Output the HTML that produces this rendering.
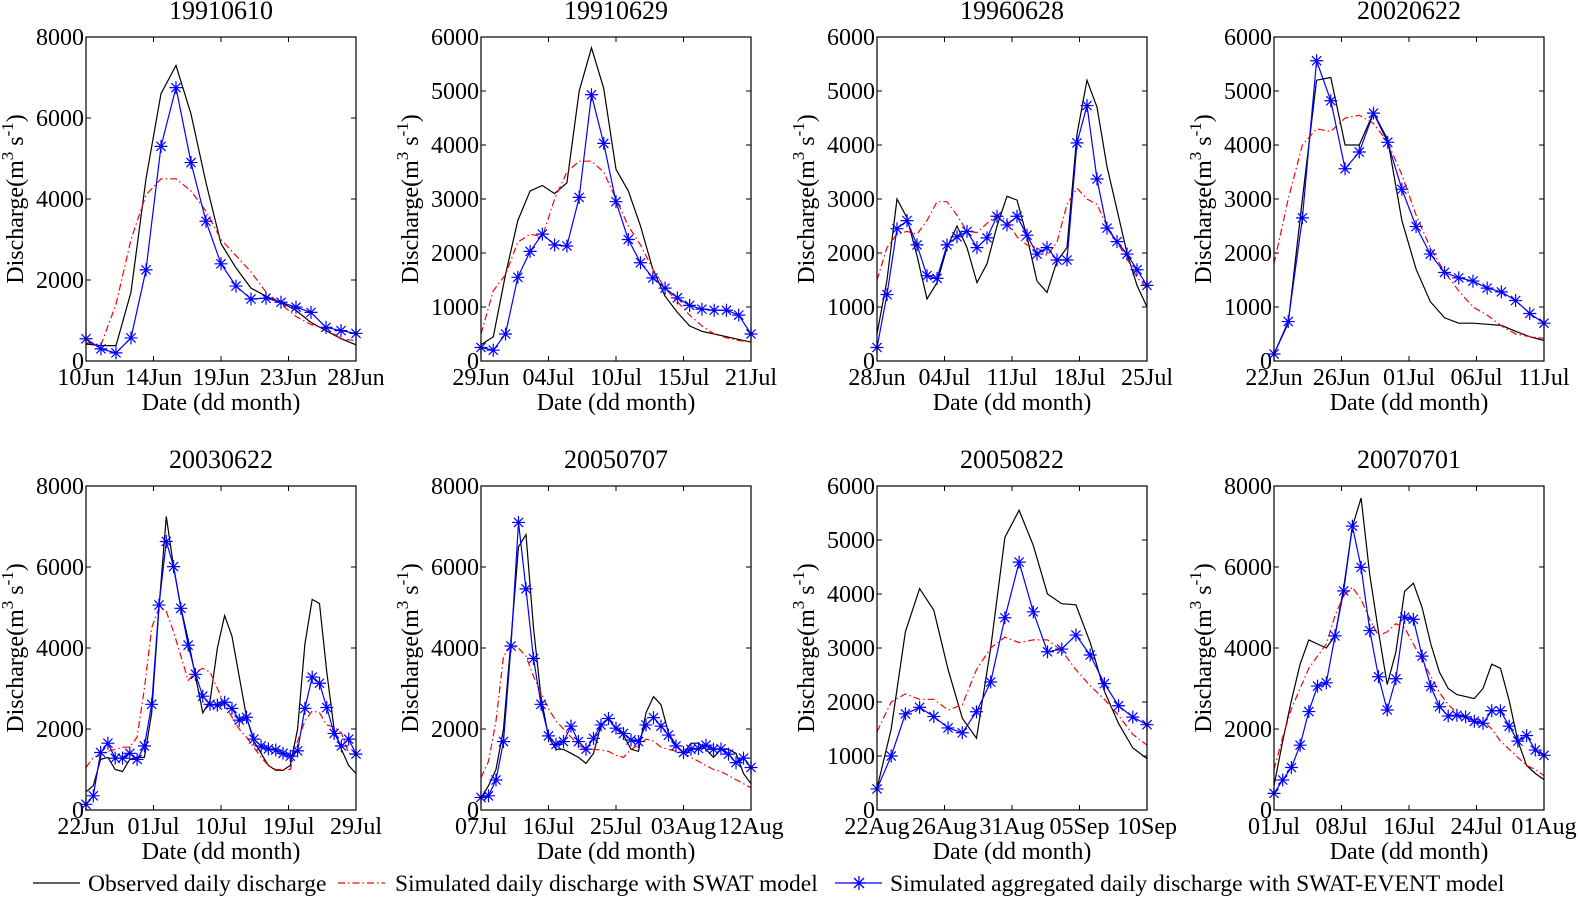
<!DOCTYPE html>
<html><head><meta charset="utf-8"><style>
html,body{margin:0;padding:0;background:#fff;}
svg{display:block;font-family:"Liberation Serif",serif;}
</style></head><body>
<svg id="c" width="1578" height="902" viewBox="0 0 1578 902" xmlns="http://www.w3.org/2000/svg">
<g>
<line x1="33" y1="883" x2="80" y2="883" stroke="#000" stroke-width="1.3"/>
<text x="88" y="891" font-size="23.5">Observed daily discharge</text>
<line x1="338" y1="883" x2="385" y2="883" stroke="#f00" stroke-width="1.3" stroke-dasharray="7,3,1.5,3"/>
<text x="395" y="891" font-size="23.5">Simulated daily discharge with SWAT model</text>
<line x1="835" y1="883" x2="882" y2="883" stroke="#00f" stroke-width="1.3"/>
<g stroke="#00f" stroke-width="1.3"><line x1="852" y1="883" x2="866" y2="883"/><line x1="859" y1="876" x2="859" y2="890"/><line x1="854" y1="878" x2="864" y2="888"/><line x1="854" y1="888" x2="864" y2="878"/></g>
<text x="890" y="891" font-size="23.5">Simulated aggregated daily discharge with SWAT-EVENT model</text>
</g>
</svg>
<script>
const titles=["19910610","19910629","19960628","20020622","20030622","20050707","20050822","20070701"];
const yMaxes=[8000,6000,6000,6000,8000,8000,6000,8000];
const xTicks=[["10Jun","14Jun","19Jun","23Jun","28Jun"],["29Jun","04Jul","10Jul","15Jul","21Jul"],["28Jun","04Jul","11Jul","18Jul","25Jul"],["22Jun","26Jun","01Jul","06Jul","11Jul"],["22Jun","01Jul","10Jul","19Jul","29Jul"],["07Jul","16Jul","25Jul","03Aug","12Aug"],["22Aug","26Aug","31Aug","05Sep","10Sep"],["01Jul","08Jul","16Jul","24Jul","01Aug"]];
const observed=[
[420,380,380,1700,4500,6600,7300,6100,4400,2900,2300,1800,1600,1450,1250,950,750,550,400],
[300,450,1600,2600,3150,3250,3100,3300,5000,5800,5050,3550,3150,2500,1700,1200,900,650,550,500,450,400,350],
[500,1500,3000,2650,1950,1150,1450,2100,2500,2100,1450,1800,2500,3050,2980,2300,1480,1270,1850,2100,4200,5200,4700,3600,2800,2000,1400,1000],
[130,700,3000,5200,5250,4000,4000,4600,4100,2600,1700,1100,800,700,700,680,660,550,450,380],
[450,600,1250,1300,1000,950,1250,1300,1300,2400,5000,7250,6000,5000,4200,3300,2400,2700,4000,4800,4300,3300,2300,1700,1400,1100,980,980,1100,2000,4100,5200,5100,3400,2000,1500,1100,900],
[300,600,1000,2000,4200,6500,6800,4500,2800,1800,1500,1500,1400,1300,1150,1400,2100,2250,2000,1850,1500,1450,2400,2800,2600,1900,1600,1400,1650,1650,1500,1300,1500,1500,1400,900,650],
[400,1500,3300,4100,3700,2600,1700,1330,3000,5050,5550,4900,4000,3820,3800,3100,2200,1600,1150,950],
[600,1700,2700,3600,4200,4100,4000,4300,5500,7000,7700,5800,4400,3100,3900,5400,5600,5000,4100,3400,3000,2850,2800,2750,3000,3600,3500,2700,1700,1100,900,750]];
const swat=[
[450,400,1400,3000,4100,4500,4500,4200,3700,3000,2600,2200,1700,1400,1100,900,800,550,500],
[500,1300,1600,2200,2350,2300,3000,3500,3700,3700,3500,3000,2500,2150,1700,1350,1100,850,650,500,430,380,350],
[1500,2100,2350,2400,2350,2600,2950,2950,2700,2400,2380,2550,2700,2600,2300,2150,2100,1950,2200,2900,3200,3000,2900,2500,2200,1900,1550,1350],
[1800,3000,4000,4300,4250,4500,4550,4400,4050,3450,2700,2100,1650,1300,1000,850,650,500,450,420],
[1050,1300,1350,1450,1500,1550,1550,1800,3000,4500,5000,4900,4400,3800,3200,3400,3500,3400,3000,2600,2300,2000,1800,1550,1300,1100,1000,1000,1000,1700,2200,2450,2400,2100,2050,1900,1400,1400],
[800,1200,2200,3800,4050,4000,3800,3300,2900,2500,2200,2000,1800,1600,1500,1500,1480,1450,1350,1300,1500,1600,1750,1700,1550,1500,1450,1400,1300,1200,1100,1000,950,850,750,650,550],
[1450,2000,2150,2050,2050,1850,1950,2600,3000,3200,3100,3150,3150,2950,2600,2300,2050,1750,1400,1200],
[1000,1800,2500,3000,3500,3800,4100,4800,5300,5500,5200,4700,4300,4400,4600,4500,4100,3700,3300,2900,2600,2400,2300,2250,2200,2000,1700,1500,1300,1100,1000,850]];
const swatEvent=[
[550,300,200,570,2250,5300,6750,4900,3450,2400,1850,1530,1550,1450,1330,1200,830,750,680],
[250,200,500,1550,2030,2350,2150,2130,3030,4930,4030,2950,2250,1820,1540,1350,1170,1030,960,940,940,850,500],
[250,1230,2450,2600,2150,1580,1530,2150,2300,2400,2100,2280,2680,2520,2680,2330,1980,2100,1870,1870,4040,4730,3370,2460,2210,1980,1690,1400],
[130,730,2650,5560,4820,3560,3870,4590,4050,3180,2490,1980,1640,1540,1480,1350,1280,1120,880,700],
[140,350,1420,1650,1280,1280,1400,1250,1580,2610,5060,6630,6010,4980,4070,3350,2810,2610,2590,2660,2510,2220,2290,1750,1580,1510,1480,1400,1330,1460,2510,3280,3130,2530,1890,1580,1750,1380],
[310,350,740,1690,4050,7100,5460,3740,2610,1830,1620,1690,2070,1690,1500,1770,2100,2260,2020,1890,1730,1690,2100,2280,2070,1850,1580,1420,1500,1520,1600,1500,1510,1380,1170,1280,1050],
[390,1000,1780,1900,1730,1520,1430,1820,2370,3560,4590,3670,2930,2980,3240,2870,2340,1930,1720,1580],
[410,740,1050,1600,2430,3060,3140,4300,5410,7010,5990,4430,3290,2470,3240,4760,4710,3800,3050,2550,2320,2340,2300,2190,2140,2450,2450,2070,1700,1840,1480,1350]];

const NS="http://www.w3.org/2000/svg";
const svg=document.getElementById('c');
function mk(tag,attrs,parent){const e=document.createElementNS(NS,tag);for(const k in attrs)e.setAttribute(k,attrs[k]);(parent||svg).appendChild(e);return e;}
const lefts=[86,481,877,1274], tops=[37,486], W=270, H=324;
for(let p=0;p<8;p++){
  const L=lefts[p%4], T=tops[Math.floor(p/4)], ymax=yMaxes[p];
  const n=observed[p].length;
  const xs=i=>L+i*W/(n-1);
  const ys=v=>T+H-v/ymax*H;
  const g=mk('g',{});
  
  
  const t=mk('text',{x:L+W/2,y:T-18,'text-anchor':'middle','font-size':26},g);t.textContent=titles[p];
  
  
  const step=ymax===8000?2000:1000;
  for(let v=0;v<=ymax;v+=step){
    const y=ys(v);
    mk('line',{x1:L,y1:y,x2:L+5,y2:y,stroke:'#000'},g);
    mk('line',{x1:L+W-5,y1:y,x2:L+W,y2:y,stroke:'#000'},g);
    const tl=mk('text',{x:L-2,y:y+8,'text-anchor':'end','font-size':24},g);tl.textContent=v;
    
    
  }
  xTicks[p].forEach((lab,k)=>{
    const x=L+k*W/4;
    mk('line',{x1:x,y1:T+H,x2:x,y2:T+H-5,stroke:'#000'},g);
    mk('line',{x1:x,y1:T,x2:x,y2:T+5,stroke:'#000'},g);
    const tl=mk('text',{x:x,y:T+H+24,'text-anchor':'middle','font-size':24},g);tl.textContent=lab;
    
    
  });
  const xl=mk('text',{x:L+W/2,y:T+H+49,'text-anchor':'middle','font-size':24},g);xl.textContent='Date (dd month)';
  
  
  const yl=mk('text',{x:0,y:0,'text-anchor':'middle','font-size':24,transform:`translate(${L-63},${T+H/2}) rotate(-90)`},g);
  yl.innerHTML='Discharge(m<tspan font-size="17" dy="-10">3</tspan><tspan dy="10"> s</tspan><tspan font-size="17" dy="-10">-1</tspan><tspan dy="10">)</tspan>';
  
  
  const path=arr=>arr.map((v,i)=>(i?'L':'M')+xs(i).toFixed(1)+','+ys(v).toFixed(1)).join('');
  const o=mk('path',{d:path(observed[p]),fill:'none',stroke:'#000','stroke-width':1.2},g);
  
  
  const s=mk('path',{d:path(swat[p]),fill:'none',stroke:'#f00','stroke-width':1.2,'stroke-dasharray':'7,3,1.5,3'},g);
  
  
  const e=mk('path',{d:path(swatEvent[p]),fill:'none',stroke:'#00f','stroke-width':1.2},g);
  
  
  swatEvent[p].forEach((v,i)=>{
    const cx=xs(i), cy=ys(v), r=6.5, d=4.6;
    const m=mk('path',{d:`M${cx-r},${cy}H${cx+r}M${cx},${cy-r}V${cy+r}M${cx-d},${cy-d}L${cx+d},${cy+d}M${cx-d},${cy+d}L${cx+d},${cy-d}`,stroke:'#00f','stroke-width':1.2,fill:'none'},g);
    
    
  });
  const b=mk('rect',{x:L,y:T,width:W,height:H,fill:'none',stroke:'#000','stroke-width':1.2},g);
  
  
}
</script>
</body></html>
